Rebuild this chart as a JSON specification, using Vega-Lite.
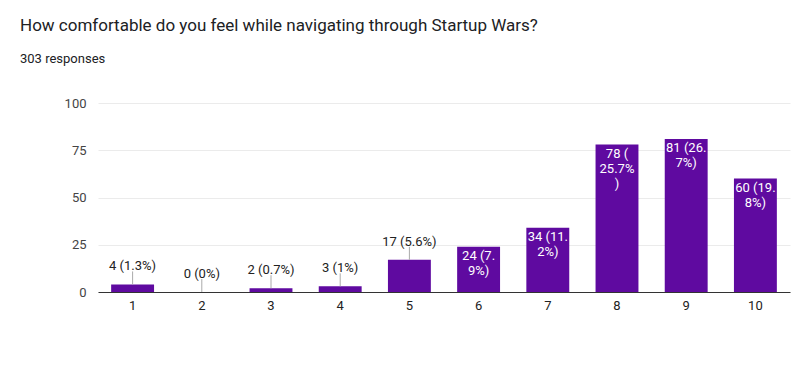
{
  "$schema": "https://vega.github.io/schema/vega-lite/v6.json",
  "width": 692,
  "height": 189,
  "autosize": {"type": "none"},
  "padding": {"left": 98, "top": 103, "right": 10, "bottom": 73},
  "background": "white",
  "config": {
    "font": "Roboto",
    "view": {"stroke": null}
  },
  "title": {
    "text": "How comfortable do you feel while navigating through Startup Wars?",
    "subtitle": "303 responses",
    "anchor": "start",
    "frame": "group",
    "dx": -78,
    "offset": 30,
    "fontSize": 17,
    "fontWeight": "normal",
    "color": "#202124",
    "subtitleFontSize": 13,
    "subtitleColor": "#202124",
    "subtitlePadding": 18
  },
  "data": {
    "values": [
      {"rating": "1", "count": 4, "label": "4 (1.3%)"},
      {"rating": "2", "count": 0, "label": "0 (0%)"},
      {"rating": "3", "count": 2, "label": "2 (0.7%)"},
      {"rating": "4", "count": 3, "label": "3 (1%)"},
      {"rating": "5", "count": 17, "label": "17 (5.6%)"},
      {"rating": "6", "count": 24, "label": "24 (7.\n9%)"},
      {"rating": "7", "count": 34, "label": "34 (11.\n2%)"},
      {"rating": "8", "count": 78, "label": "78 (\n25.7%\n)"},
      {"rating": "9", "count": 81, "label": "81 (26.\n7%)"},
      {"rating": "10", "count": 60, "label": "60 (19.\n8%)"}
    ]
  },
  "encoding": {
    "x": {
      "field": "rating",
      "type": "ordinal",
      "sort": null,
      "scale": {"paddingInner": 0.38, "paddingOuter": 0.19},
      "axis": {
        "title": null,
        "labelAngle": 0,
        "ticks": false,
        "domainColor": "#333333",
        "labelColor": "#222222",
        "labelFontSize": 13,
        "labelPadding": 7
      }
    },
    "y": {
      "field": "count",
      "type": "quantitative",
      "scale": {"domain": [0, 100]},
      "axis": {
        "title": null,
        "values": [0, 25, 50, 75, 100],
        "domain": false,
        "ticks": false,
        "gridColor": "#ebebeb",
        "labelColor": "#444444",
        "labelFontSize": 13,
        "labelPadding": 12
      }
    }
  },
  "layer": [
    {
      "mark": {"type": "bar", "color": "#5f0aa0"}
    },
    {
      "transform": [{"filter": "datum.count < 20"}],
      "mark": {"type": "rule", "color": "#aaaaaa", "y2Offset": -13},
      "encoding": {"y2": {"field": "count"}}
    },
    {
      "transform": [{"filter": "datum.count < 20"}],
      "mark": {"type": "text", "baseline": "middle", "dy": -18, "fontSize": 13, "color": "#222222"},
      "encoding": {"text": {"field": "label"}}
    },
    {
      "transform": [{"filter": "datum.count >= 20"}],
      "mark": {"type": "text", "baseline": "top", "dy": 3, "fontSize": 13, "lineHeight": 15, "lineBreak": "\n", "color": "white"},
      "encoding": {"text": {"field": "label"}}
    }
  ]
}
